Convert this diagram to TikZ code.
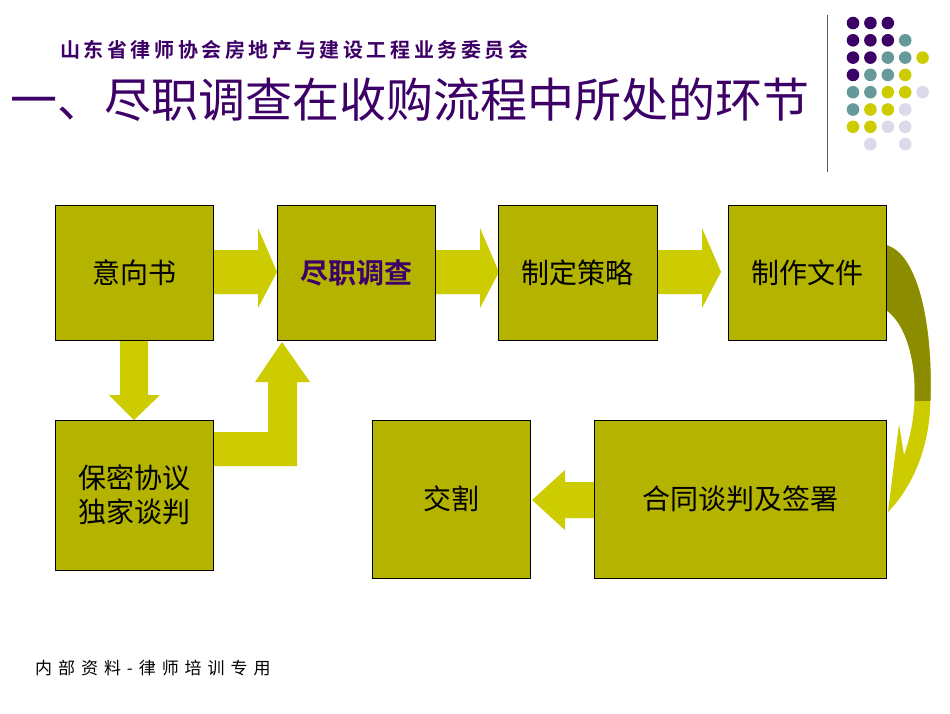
\documentclass[tikz,border=0pt]{standalone}
\usepackage{fontspec}
\newfontfamily\cjk{Noto Sans CJK SC}
\newfontfamily\cjkb{Noto Sans CJK SC Bold}
\newfontfamily\cjkh[LetterSpace=18]{Noto Sans CJK SC Bold}
\newfontfamily\cjkf[LetterSpace=35]{Noto Sans CJK SC}
\definecolor{boxc}{HTML}{B3B300}
\definecolor{arr}{HTML}{CCCC00}
\definecolor{dark}{HTML}{8C8C00}
\definecolor{pur}{HTML}{3D0066}
\definecolor{teal}{HTML}{669999}
\definecolor{lil}{HTML}{DADAEB}
\begin{document}
\begin{tikzpicture}[x=1pt,y=-1pt,
  bx/.style={draw=black,fill=boxc,line width=0.8pt,font=\cjk\fontsize{28}{34}\selectfont,align=center,inner sep=0},
  ar/.style={fill=arr,draw=none}]
\useasboundingbox (0,0) rectangle (950,713);
\fill[white] (0,0) rectangle (950,713);
% header
\node[anchor=west,text=pur,font=\cjkh\fontsize{20}{22}\selectfont,inner sep=0] (h1) at (60,50) {山东省律师协会房地产与建设工程业务委员会};
\node[anchor=west,text=pur,font=\cjk\fontsize{47}{50}\selectfont,inner sep=0] (h2) at (10,100) {一、尽职调查在收购流程中所处的环节};
\node[anchor=west,font=\cjkf\fontsize{17}{20}\selectfont,inner sep=0] (ft) at (35,668) {内部资料-律师培训专用};
\draw[gray!70!black,line width=1pt] (827,15) -- (827,172);
% dots
\def\dotat#1#2#3{\fill[#3] (853+17.4*#1,23+17.3*#2) circle (6.3);}
\foreach \i/\r in {0/0,1/0,2/0,0/1,1/1,2/1,0/2,1/2,0/3} {\dotat{\i}{\r}{pur}}
\foreach \i/\r in {3/1,2/2,3/2,1/3,2/3,0/4,1/4,0/5} {\dotat{\i}{\r}{teal}}
\foreach \i/\r in {4/2,3/3,2/4,3/4,1/5,2/5,0/6,1/6} {\dotat{\i}{\r}{arr}}
\foreach \i/\r in {4/4,3/5,2/6,3/6,1/7,3/7} {\dotat{\i}{\r}{lil}}
% arrows
\foreach \a in {213,435,657}{
  \fill[ar] (\a,250) -- (\a+45,250) -- (\a+45,228) -- (\a+64,272) -- (\a+45,308) -- (\a+45,294) -- (\a,294) -- cycle;}
\fill[ar] (120,340) -- (148,340) -- (148,395) -- (160,395) -- (134,420) -- (109,395) -- (120,395) -- cycle;
\fill[ar] (213,432) -- (268,432) -- (268,382) -- (255,382) -- (282,342) -- (310,382) -- (297,382) -- (297,466) -- (213,466) -- cycle;
\fill[ar] (594,482) -- (565,482) -- (565,470) -- (532,500) -- (565,530) -- (565,518) -- (594,518) -- cycle;
% curved arrow
\begin{scope}
\fill[arr] (886,245) .. controls (922,255) and (934,340) .. (930,410) .. controls (927,460) and (905,495) .. (888,512) -- (899,424) -- (904,455) .. controls (924,400) and (915,330) .. (886,310) -- cycle;
\clip (880,230) rectangle (950,400);
\fill[dark] (886,245) .. controls (922,255) and (934,340) .. (930,410) .. controls (927,460) and (905,495) .. (888,512) -- (899,424) -- (904,455) .. controls (924,400) and (915,330) .. (886,310) -- cycle;
\end{scope}
% boxes
\node[bx,minimum width=158,minimum height=135] (a) at (134,272.5) {意向书};
\node[bx,minimum width=158,minimum height=135,text=pur,font=\cjkb\fontsize{28}{34}\selectfont] (b) at (356,272.5) {尽职调查};
\node[bx,minimum width=159,minimum height=135] (c) at (577.5,272.5) {制定策略};
\node[bx,minimum width=158,minimum height=135] (d) at (807,272.5) {制作文件};
\node[bx,minimum width=158,minimum height=150] (e) at (134,495) {保密协议\\独家谈判};
\node[bx,minimum width=158,minimum height=158] (f) at (451,499) {交割};
\node[bx,minimum width=292,minimum height=158] (g) at (740,499) {合同谈判及签署};
\end{tikzpicture}
\end{document}
